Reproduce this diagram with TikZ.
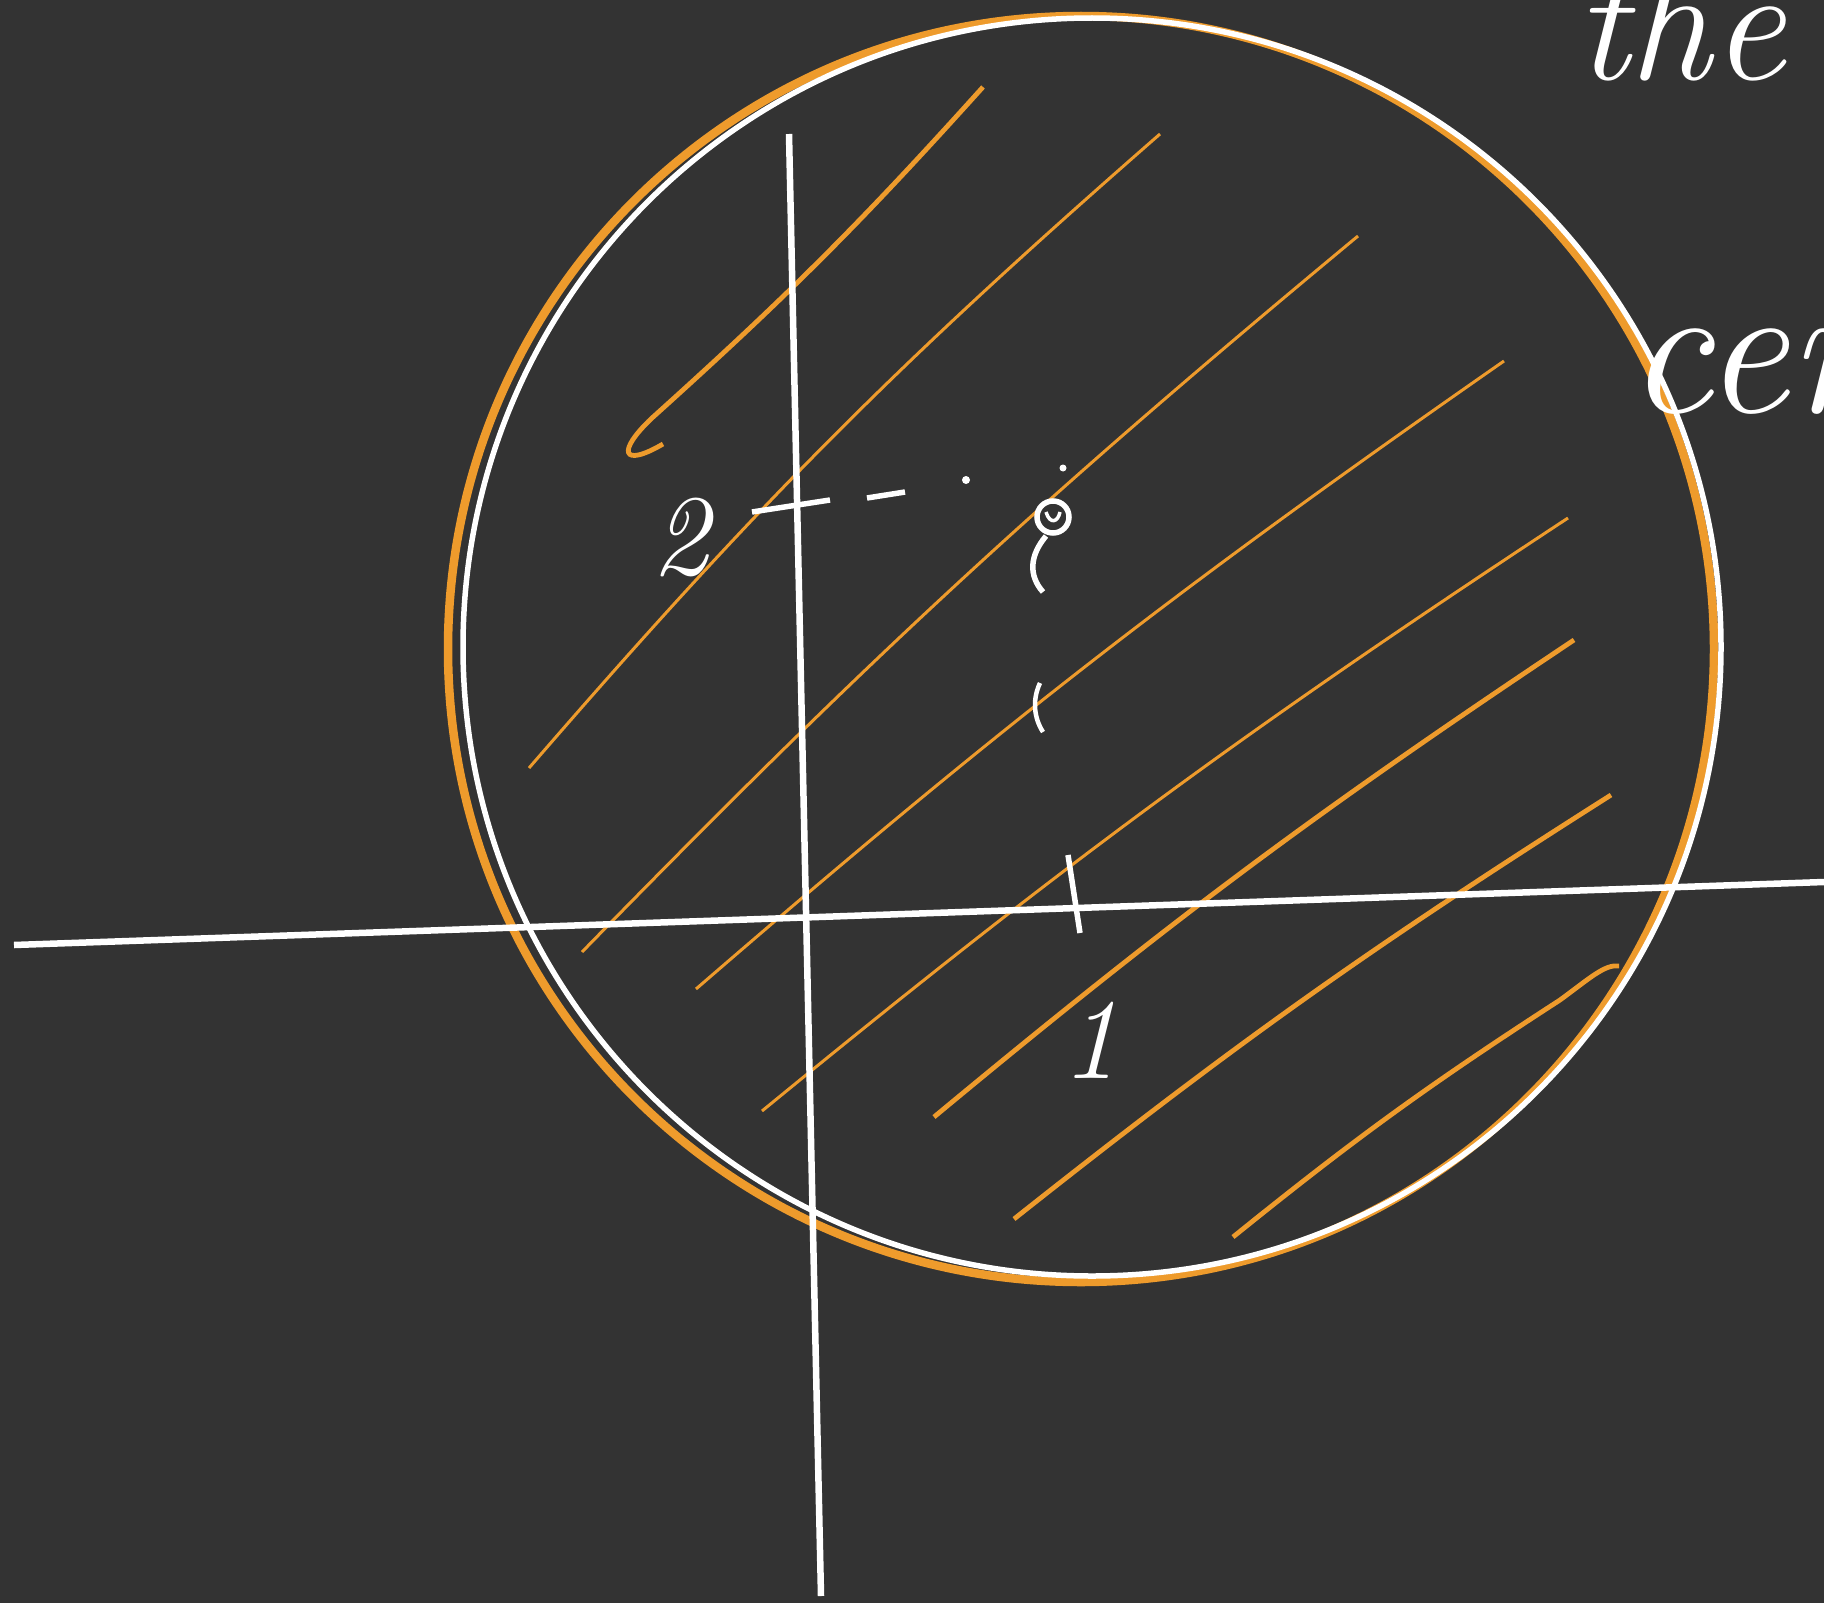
\documentclass[tikz,border=0pt]{standalone}
\usepackage{tikz}
\definecolor{board}{HTML}{333333}
\definecolor{chalkorange}{HTML}{EE9B2C}
\tikzset{every node/.style={font=\itshape},line cap=round,line join=round}

\begin{document}
\begin{tikzpicture}[x=1pt,y=-1pt,
  axis/.style={draw=white,line width=6.5pt},
  hatch/.style={draw=chalkorange,line width=3pt},
  hatchthick/.style={draw=chalkorange,line width=4.8pt},
  chalk/.style={draw=white,line width=5.5pt},
  hand/.style={text=white,inner sep=0pt,font=\itshape\fontsize{#1}{#1}\selectfont}]
  \fill[board] (0,0) rectangle (1824,1603);
  \path[use as bounding box] (0,0) rectangle (1824,1603);
  \clip (0,0) rectangle (1824,1603);
  \draw[hatchthick] (663,444) .. controls (622,468) and (616,452) .. (652,418) to[bend right=3] (983,87);
  \draw[hatch] (529,768) to[bend left=4] (1160,134);
  \draw[hatch] (582,952) to[bend left=3] (1358,236);
  \draw[hatch] (696,989) to[bend left=3] (1504,361);
  \draw[hatch] (762,1111) to[bend left=3] (1568,518);
  \draw[hatchthick] (934,1117) to[bend left=3] (1574,640);
  \draw[hatchthick] (1014,1219) to[bend left=3] (1611,795);
  \draw[hatchthick] (1233,1237) to[bend left=3] (1560,1000) .. controls (1590,978) and (1605,964) .. (1619,966);
  \draw[chalkorange,line width=8.5pt] (1081,649) circle (633);
  \draw[white,line width=5.5pt] (1092,647) circle (629);
  \coordinate (xl) at (14,945);
  \coordinate (xr) at (1824,882);
  \coordinate (yt) at (789,134);
  \coordinate (yb) at (821,1596);
  \draw[axis] (xl) -- (xr);
  \draw[axis] (yt) -- (yb);
  \coordinate (tickl) at (752,512);
  \coordinate (tickr) at (830,500);
  \coordinate (dasha) at (867,498);
  \coordinate (dashb) at (905,492);
  \coordinate (dotc) at (966,480);
  \coordinate (centre) at (1053,517);
  \draw[chalk] (tickl) -- (tickr);
  \draw[chalk] (dasha) -- (dashb);
  \fill[white] (dotc) circle (4);
  \draw[chalk] (centre) circle (16);
  \draw[chalk,line width=3.5pt] (1046,512) .. controls (1050,525) and (1058,522) .. (1060,512);
  \draw[chalk] (1046,536) .. controls (1030,555) and (1028,575) .. (1043,592);
  \fill[white] (1063,468) circle (3.5);
  \draw[chalk] (1068,855) -- (1080,933);
  \draw[chalk,line width=4.5pt] (1040,683) .. controls (1032,700) and (1034,718) .. (1043,732);
  \node[hand=115] (ytwo) at (680,537) {2};
  \node[hand=115] (xone) at (1090,1040) {1};
  \node[hand=165,anchor=base west] (wordthe) at (1575,80) {the};
  \node[hand=190,anchor=base west] (wordcen) at (1627,412) {cen};
\end{tikzpicture}
\end{document}
